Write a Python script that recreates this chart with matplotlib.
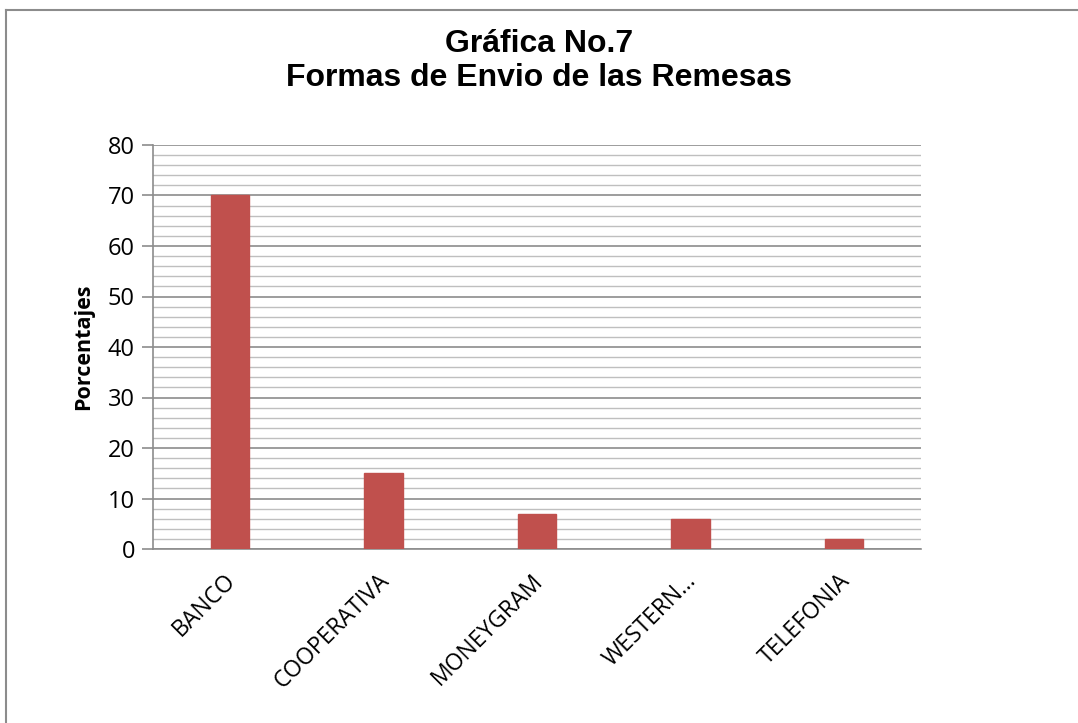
import matplotlib
matplotlib.use("Agg")
import matplotlib.pyplot as plt
from matplotlib.lines import Line2D
import matplotlib.transforms as mtransforms
import numpy as np

categories = ["BANCO", "COOPERATIVA", "MONEYGRAM", "WESTERN…", "TELEFONIA"]
values = [70, 15, 7, 6, 2]
title = "Gráfica No.7\nFormas de Envio de las Remesas"
ylabel = "Porcentajes"

W, H = 1078, 723
fig = plt.figure(figsize=(W / 100, H / 100), dpi=100)
ax = fig.add_axes([153 / W, 1 - 549 / H, (921 - 153) / W, (549 - 145) / H])

x = np.arange(len(categories))
ax.bar(x, values, width=0.25, color="#C0504D", edgecolor="#C0504D", zorder=3)
ax.set_xlim(-0.5, len(categories) - 0.5)
ax.set_ylim(0, 80)
ax.set_yticks(np.arange(0, 81, 10))
ax.set_yticks(np.arange(0, 81, 2), minor=True)
ax.yaxis.grid(True, which="major", color="#8c8c8c", linewidth=1.2, zorder=0)
ax.yaxis.grid(True, which="minor", color="#bfbfbf", linewidth=1.0, zorder=0)
ax.tick_params(axis="y", which="major", length=8, width=1.2, color="#8c8c8c",
               labelsize=17, pad=5)
ax.tick_params(axis="y", which="minor", length=0)
ax.tick_params(axis="x", length=0, pad=8)
ax.set_xticks(x)
ax.set_xticklabels(categories, rotation=45, ha="right", rotation_mode="anchor",
                   fontsize=16.5, family="Open Sans")
for lab in ax.get_yticklabels():
    lab.set_family("Open Sans")
for s in ["top", "right"]:
    ax.spines[s].set_visible(False)
for s in ["left", "bottom"]:
    ax.spines[s].set_color("#8c8c8c")
    ax.spines[s].set_linewidth(1.2)

offset = mtransforms.ScaledTranslation(-6 / 100, -9 / 100, fig.dpi_scale_trans)
for lab in ax.get_xticklabels():
    lab.set_transform(lab.get_transform() + offset)

ax.set_ylabel(ylabel, fontsize=15.5, fontweight="bold", family="Open Sans", labelpad=10)

fig.text(0.5, 1 - 61 / H, title, ha="center", va="center", fontsize=23,
         fontweight="bold", family="Liberation Sans", linespacing=1.2)

# outer border (partial, as in reference)
fig.add_artist(Line2D([6 / W, 6 / W], [0, 1 - 10 / H], transform=fig.transFigure,
                      color="#8c8c8c", linewidth=1.5))
fig.add_artist(Line2D([6 / W, 1], [1 - 10 / H, 1 - 10 / H], transform=fig.transFigure,
                      color="#8c8c8c", linewidth=1.5))

fig.savefig("out.png", dpi=100, facecolor="white")
